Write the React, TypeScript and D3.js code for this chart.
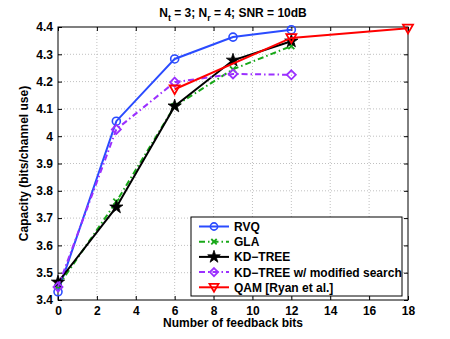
import { useEffect, useRef } from 'react'
import * as d3 from 'd3'

const X_TICKS = [0, 2, 4, 6, 8, 10, 12, 14, 16, 18]
const Y_TICKS = [3.4, 3.5, 3.6, 3.7, 3.8, 3.9, 4.0, 4.1, 4.2, 4.3, 4.4]

const BITS = [0, 3, 6, 9, 12]
const RVQ = [3.43, 4.055, 4.283, 4.363, 4.39]
const GLA = [3.45, 3.76, 4.11, 4.245, 4.33]
const KD_TREE = [3.465, 3.74, 4.11, 4.278, 4.348]
const KD_MOD = [3.448, 4.025, 4.198, 4.228, 4.225]
const QAM_BITS = [6, 12, 18]
const QAM = [4.172, 4.36, 4.395]

const SERIES = [
  { name: 'RVQ', xs: BITS, ys: RVQ, color: '#2a4bff', dash: null, marker: 'circle' },
  { name: 'GLA', xs: BITS, ys: GLA, color: '#18a818', dash: '6,3,1.5,3', marker: 'x' },
  { name: 'KD\u2212TREE', xs: BITS, ys: KD_TREE, color: '#000000', dash: null, marker: 'star' },
  { name: 'KD\u2212TREE w/ modified search', xs: BITS, ys: KD_MOD, color: '#9b30ff', dash: '6,3,1.5,3', marker: 'diamond' },
  { name: 'QAM [Ryan et al.]', xs: QAM_BITS, ys: QAM, color: '#ff0000', dash: null, marker: 'triangle' },
]

const FONT = '"Liberation Sans", Arial, sans-serif'

function drawMarker(g: any, type: string, x: number, y: number, color: string, scale = 1) {
  if (type === 'circle') {
    g.append('circle').attr('cx', x).attr('cy', y).attr('r', 4 * scale)
      .attr('fill', 'none').attr('stroke', color).attr('stroke-width', 1.6)
  } else if (type === 'x') {
    const s = 3 * scale
    g.append('path').attr('d', `M${x - s},${y - s}L${x + s},${y + s}M${x - s},${y + s}L${x + s},${y - s}`)
      .attr('stroke', color).attr('stroke-width', 1.8)
  } else if (type === 'star') {
    g.append('path')
      .attr('d', d3.symbol().type(d3.symbolStar).size(55 * scale)())
      .attr('transform', `translate(${x},${y})`)
      .attr('fill', color).attr('stroke', color).attr('stroke-width', 0.8)
  } else if (type === 'diamond') {
    const s = 4.5 * scale
    g.append('path').attr('d', `M${x},${y - s}L${x + s},${y}L${x},${y + s}L${x - s},${y}Z`)
      .attr('fill', 'none').attr('stroke', color).attr('stroke-width', 1.8)
  } else if (type === 'triangle') {
    const s = 5 * scale
    g.append('path').attr('d', `M${x - s},${y - s * 0.75}L${x + s},${y - s * 0.75}L${x},${y + s}Z`)
      .attr('fill', 'none').attr('stroke', color).attr('stroke-width', 1.8)
  }
}

export default function App() {
  const svgRef = useRef<SVGSVGElement>(null)

  useEffect(() => {
    const W = 450
    const H = 339
    const margin = { top: 27, right: 42, bottom: 39, left: 58 }
    const innerW = W - margin.left - margin.right
    const innerH = H - margin.top - margin.bottom

    const x = d3.scaleLinear().domain([0, 18]).range([0, innerW])
    const y = d3.scaleLinear().domain([3.4, 4.4]).range([innerH, 0])

    const svg = d3.select(svgRef.current)
    svg.selectAll('*').remove()
    svg.attr('width', W).attr('height', H)

    const g = svg.append('g').attr('transform', `translate(${margin.left},${margin.top})`)

    // Grid
    g.append('g').selectAll('line').data(X_TICKS.slice(1, -1)).join('line')
      .attr('x1', (d) => x(d)).attr('x2', (d) => x(d)).attr('y1', 0).attr('y2', innerH)
      .attr('stroke', '#b0b0b0').attr('stroke-width', 0.8).attr('stroke-dasharray', '1,2')
    g.append('g').selectAll('line').data(Y_TICKS.slice(1, -1)).join('line')
      .attr('y1', (d) => y(d)).attr('y2', (d) => y(d)).attr('x1', 0).attr('x2', innerW)
      .attr('stroke', '#b0b0b0').attr('stroke-width', 0.8).attr('stroke-dasharray', '1,2')

    // Axes
    const fmtY = (d: any) => (Math.abs(d - 4) < 1e-9 ? '4' : d3.format('.1f')(d))
    g.append('g').attr('transform', `translate(0,${innerH})`)
      .call(d3.axisBottom(x).tickValues(X_TICKS).tickSize(-4).tickPadding(6).tickFormat(d3.format('d') as any))
      .call((ax) => ax.select('.domain').remove())
      .call((ax) => ax.selectAll('text').attr('font-size', 12).attr('font-weight', 'bold').attr('font-family', FONT).attr('fill', '#000'))
    g.append('g')
      .call(d3.axisLeft(y).tickValues(Y_TICKS).tickSize(-4).tickPadding(5).tickFormat(fmtY as any))
      .call((ax) => ax.select('.domain').remove())
      .call((ax) => ax.selectAll('text').attr('font-size', 12).attr('font-weight', 'bold').attr('font-family', FONT).attr('fill', '#000'))
    g.append('g').attr('transform', `translate(${innerW},0)`)
      .call(d3.axisRight(y).tickValues(Y_TICKS).tickSize(-4).tickFormat(() => ''))
      .call((ax) => ax.select('.domain').remove())
    g.append('g')
      .call(d3.axisTop(x).tickValues(X_TICKS).tickSize(-4).tickFormat(() => ''))
      .call((ax) => ax.select('.domain').remove())

    g.append('rect').attr('width', innerW).attr('height', innerH)
      .attr('fill', 'none').attr('stroke', '#000').attr('stroke-width', 1)

    // Series
    const line = d3.line<[number, number]>().x((d) => x(d[0])).y((d) => y(d[1]))
    SERIES.forEach((s) => {
      const pts = s.xs.map((v, i) => [v, s.ys[i]] as [number, number])
      g.append('path').attr('d', line(pts))
        .attr('fill', 'none').attr('stroke', s.color).attr('stroke-width', 2)
        .attr('stroke-dasharray', s.dash)
      pts.forEach((p) => drawMarker(g, s.marker, x(p[0]), y(p[1]), s.color))
    })

    // Title
    const title = svg.append('text').attr('x', 233).attr('y', 17).attr('text-anchor', 'middle')
      .attr('font-size', 12).attr('font-weight', 'bold').attr('font-family', FONT)
    title.append('tspan').text('N')
    title.append('tspan').attr('font-size', 9).attr('dy', 4).text('t')
    title.append('tspan').attr('dy', -4).text(' = 3; N')
    title.append('tspan').attr('font-size', 9).attr('dy', 4).text('r')
    title.append('tspan').attr('dy', -4).text(' = 4; SNR = 10dB')

    // Axis labels
    svg.append('text').attr('x', margin.left + innerW / 2).attr('y', 327).attr('text-anchor', 'middle')
      .attr('font-size', 12).attr('font-weight', 'bold').attr('font-family', FONT).text('Number of feedback bits')
    svg.append('text').attr('transform', `translate(28,${margin.top + innerH / 2}) rotate(-90)`).attr('text-anchor', 'middle')
      .attr('font-size', 12).attr('font-weight', 'bold').attr('font-family', FONT).text('Capacity (bits/channel use)')

    // Legend
    const lg = svg.append('g').attr('transform', 'translate(191,217)')
    lg.append('rect').attr('width', 211).attr('height', 79).attr('fill', '#fff').attr('stroke', '#000').attr('stroke-width', 1)
    SERIES.forEach((s, i) => {
      const ry = 9.5 + i * 15.2
      lg.append('line').attr('x1', 8).attr('x2', 38).attr('y1', ry).attr('y2', ry)
        .attr('stroke', s.color).attr('stroke-width', 2).attr('stroke-dasharray', s.dash)
      drawMarker(lg, s.marker, 23, ry, s.color, 0.9)
      lg.append('text').attr('x', 43).attr('y', ry + 4.5).attr('font-size', 12).attr('font-weight', 'bold')
        .attr('font-family', FONT).text(s.name)
    })
  }, [])

  return (
    <div style={{ position: 'absolute', left: 0, top: 0 }}>
      <svg ref={svgRef} style={{ display: 'block' }} />
    </div>
  )
}
